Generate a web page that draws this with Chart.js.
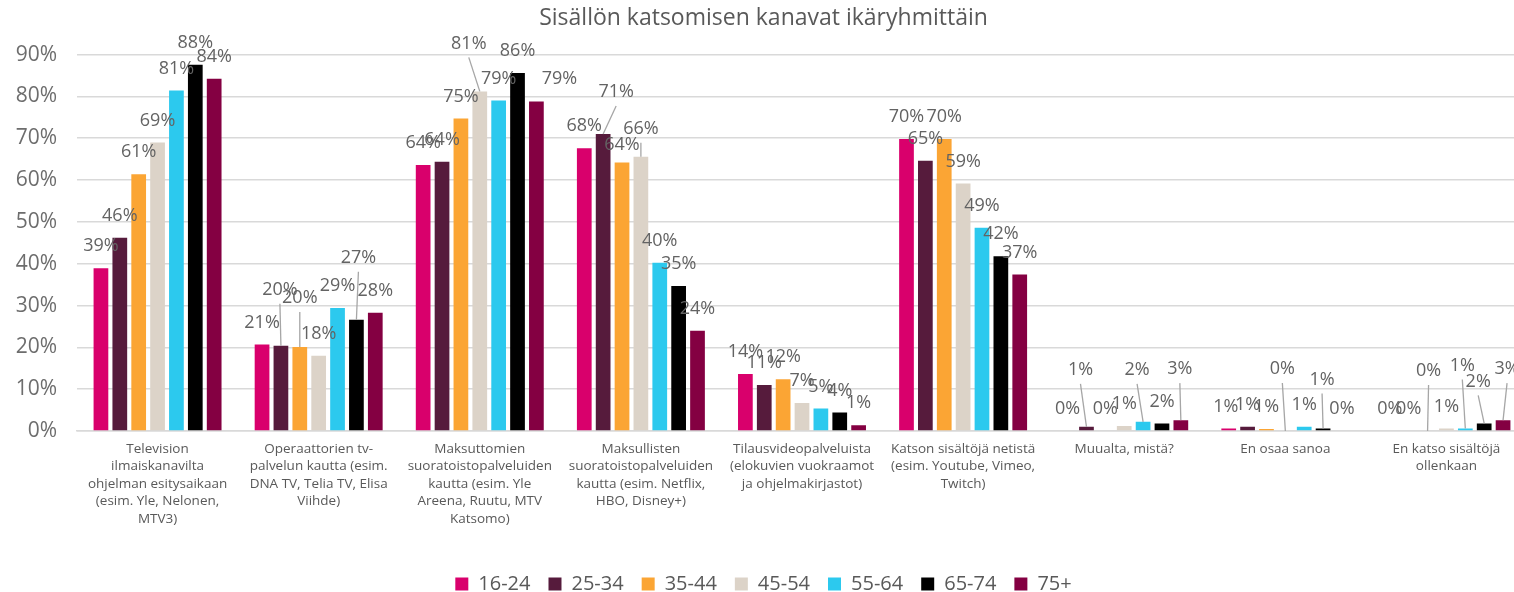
<!DOCTYPE html>
<html lang="fi">
<head>
<meta charset="utf-8">
<title>Sisällön katsomisen kanavat ikäryhmittäin</title>
<script src="https://cdn.jsdelivr.net/npm/chart.js@4/dist/chart.umd.min.js"></script>
<style>
  html, body { margin: 0; padding: 0; background: #fff; overflow: hidden; }
  #wrap { position: absolute; left: 0; top: 0; width: 1535px; height: 604px; }
</style>
</head>
<body>
<div id="wrap"><canvas id="chart" width="1535" height="604"></canvas></div>
<script>
// categories (x axis labels, split on lines like the original)
const categories = [
    ["Television", "ilmaiskanavilta", "ohjelman esitysaikaan", "(esim. Yle, Nelonen,", "MTV3)"],
    ["Operaattorien tv-", "palvelun kautta (esim.", "DNA TV, Telia TV, Elisa", "Viihde)"],
    ["Maksuttomien", "suoratoistopalveluiden", "kautta (esim. Yle", "Areena, Ruutu, MTV", "Katsomo)"],
    ["Maksullisten", "suoratoistopalveluiden", "kautta (esim. Netflix,", "HBO, Disney+)"],
    ["Tilausvideopalveluista", "(elokuvien vuokraamot", "ja ohjelmakirjastot)"],
    ["Katson sisältöjä netistä", "(esim. Youtube, Vimeo,", "Twitch)"],
    ["Muualta, mistä?"],
    ["En osaa sanoa"],
    ["En katso sisältöjä", "ollenkaan"]
];

const ageGroups = ["16-24", "25-34", "35-44", "45-54", "55-64", "65-74", "75+"];

// share of respondents, %
const age16_24 = [38.9, 20.7, 63.6, 67.6, 13.6, 69.8, 0, 0.6, 0];
const age25_34 = [46.2, 20.4, 64.4, 71.0, 11.0, 64.6, 1.0, 1.0, 0];
const age35_44 = [61.4, 20.1, 74.7, 64.2, 12.4, 69.8, 0, 0.5, 0];
const age45_54 = [69.0, 18.0, 81.2, 65.6, 6.7, 59.2, 1.2, 0, 0.6];
const age55_64 = [81.4, 29.4, 79.0, 40.2, 5.4, 48.6, 2.2, 1.0, 0.6];
const age65_74 = [87.6, 26.6, 85.6, 34.7, 4.4, 41.8, 1.8, 0.6, 1.8];
const age75plus = [84.2, 28.3, 78.8, 24.0, 1.4, 37.4, 2.6, 0, 2.6];

const yTicks = [0, 10, 20, 30, 40, 50, 60, 70, 80, 90];

const colors = ['#D9006C', '#561B3C', '#FBA534', '#DCD3C8', '#2CC9EE', '#000000', '#840042'];

// labels that were dragged away from the bar end in the original: "dataset,category" -> [dx, dy]
const labelNudge = {
    '1,1': [-1, -34], '2,1': [0, -27], '5,1': [2, -40],
    '3,2': [-11, -26], '6,2': [23, -1],
    '1,3': [13, -20], '2,3': [0, 4], '3,3': [0, -6],
    '1,6': [-6, -35], '4,6': [-6, -30], '6,6': [-1, -29],
    '0,7': [-3, 0], '3,7': [-3, -40], '5,7': [-1, -27],
    '2,8': [1, -38], '4,8': [-3, -41], '5,8': [-6, -20], '6,8': [4, -29]
};

const seriesValues = [age16_24, age25_34, age35_44, age45_54, age55_64, age65_74, age75plus];

const barLabels = {
    id: 'barLabels',
    afterDatasetsDraw(chart) {
        const ctx = chart.ctx;
        ctx.save();
        ctx.font = '18px "Open Sans", sans-serif';
        ctx.textAlign = 'center';
        ctx.textBaseline = 'middle';
        chart.data.datasets.forEach((ds, di) => {
            const meta = chart.getDatasetMeta(di);
            meta.data.forEach((bar, ci) => {
                const nudge = labelNudge[di + ',' + ci] || [0, 0];
                const lx = bar.x + nudge[0];
                const ly = bar.y - 22 + nudge[1];
                // leader line when the label sits far from its bar
                if (bar.y - (ly + 14) > 10) {
                    ctx.strokeStyle = '#A6A6A6';
                    ctx.lineWidth = 1.3;
                    ctx.beginPath();
                    ctx.moveTo(lx, ly + 14);
                    ctx.lineTo(bar.x, bar.y);
                    ctx.stroke();
                }
                ctx.fillStyle = '#636363';
                ctx.fillText(Math.round(ds.data[ci]) + '%', lx, ly);
            });
        });
        ctx.restore();
    }
};

Chart.defaults.font.family = '"Open Sans", sans-serif';
Chart.defaults.color = '#595959';

new Chart(document.getElementById('chart').getContext('2d'), {
    type: 'bar',
    data: {
        labels: categories,
        datasets: ageGroups.map((name, i) => ({
            label: name,
            data: seriesValues[i],
            backgroundColor: colors[i],
            borderWidth: 0,
            categoryPercentage: 0.82,
            barPercentage: 0.78
        }))
    },
    options: {
        responsive: false,
        animation: false,
        devicePixelRatio: 1,
        layout: { padding: { left: 0, right: 8, top: 0, bottom: 0 } },
        scales: {
            x: {
                grid: { display: false, drawTicks: false },
                border: { display: true, color: '#D9D9D9', width: 1.5 },
                ticks: {
                    color: '#595959',
                    font: { size: 13.5, lineHeight: 1.3 },
                    padding: 9,
                    maxRotation: 0,
                    autoSkip: false
                },
                afterFit(scale) { scale.height = 125; }
            },
            y: {
                min: 0,
                max: 90,
                afterBuildTicks(scale) { scale.ticks = yTicks.map(v => ({ value: v })); },
                grid: { color: '#D9D9D9', lineWidth: 1.5, drawTicks: false },
                border: { display: false },
                ticks: {
                    color: '#6d6d6d',
                    font: { size: 21 },
                    padding: 20,
                    callback: v => v + '%'
                },
                afterFit(scale) { scale.width = 77; }
            }
        },
        plugins: {
            title: {
                display: true,
                text: 'Sisällön katsomisen kanavat ikäryhmittäin',
                color: '#595959',
                font: { size: 23, weight: 'normal' },
                padding: { top: 5, bottom: 22 }
            },
            legend: {
                position: 'bottom',
                labels: {
                    color: '#595959',
                    font: { size: 20 },
                    boxWidth: 13,
                    boxHeight: 13,
                    padding: 18
                }
            },
            tooltip: { enabled: false }
        }
    },
    plugins: [barLabels]
});
</script>
</body>
</html>
